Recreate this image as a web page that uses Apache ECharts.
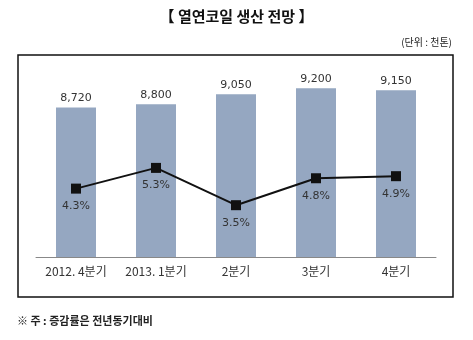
<!DOCTYPE html>
<html>
<head>
<meta charset="utf-8">
<script src="https://cdn.jsdelivr.net/npm/echarts@6/dist/echarts.min.js"></script>
<style>html,body{margin:0;padding:0;background:#fff}#c{width:473px;height:340px}</style>
</head>
<body>
<div id="c"></div>
<script>
var categories = ['2012. 4분기', '2013. 1분기', '2분기', '3분기', '4분기'];
var production = [8720, 8800, 9050, 9200, 9150];
var growthRate = [4.3, 5.3, 3.5, 4.8, 4.9];

var KR = '"Noto Sans CJK KR", sans-serif';
var NUM = '"DejaVu Sans", sans-serif';
var chart = echarts.init(document.getElementById('c'), null, {renderer: 'canvas'});
chart.setOption({
  animation: false,
  backgroundColor: '#fff',
  title: {
    text: '【 열연코일 생산 전망 】',
    left: 'center', top: 4,
    textStyle: {fontFamily: KR, fontSize: 15, fontWeight: 'bold', color: '#111'}
  },
  graphic: [
    {type: 'rect', shape: {x: 18, y: 55, width: 435, height: 242},
     style: {fill: 'none', stroke: '#111', lineWidth: 1.5}, z: -1},
    {type: 'text', right: 21, top: 37,
     style: {text: '(단위 : 천톤)', font: '10px "Noto Sans CJK KR"', fill: '#222'}},
    {type: 'text', left: 17, top: 315,
     style: {text: '※ 주 : 증감률은 전년동기대비', font: 'bold 11px "Noto Sans CJK KR"', fill: '#222'}}
  ],
  grid: {left: 36, right: 37, top: 56, bottom: 83, containLabel: false},
  xAxis: {
    type: 'category', data: categories,
    axisLine: {lineStyle: {color: '#888', width: 1}},
    axisTick: {show: false},
    axisLabel: {fontFamily: KR, fontSize: 12, color: '#333', margin: 8}
  },
  yAxis: [
    {type: 'value', min: 5000, max: 10000, show: false, splitLine: {show: false}},
    {type: 'value', min: 1, max: 10.7, show: false, splitLine: {show: false}}
  ],
  series: [
    {
      type: 'bar', data: production, barWidth: 40,
      itemStyle: {color: '#95a7c1'},
      label: {show: true, position: 'top', distance: 4, fontFamily: NUM, fontSize: 11, color: '#333',
        formatter: function (p) { return p.value.toLocaleString('en-US'); }}
    },
    {
      type: 'line', yAxisIndex: 1, data: growthRate,
      symbol: 'rect', symbolSize: 10,
      lineStyle: {color: '#111', width: 2},
      itemStyle: {color: '#111'},
      label: {show: true, position: 'bottom', distance: 7, fontFamily: NUM, fontSize: 11, color: '#333',
        formatter: function (p) { return p.value.toFixed(1) + '%'; }}
    }
  ]
});
</script>
</body>
</html>
